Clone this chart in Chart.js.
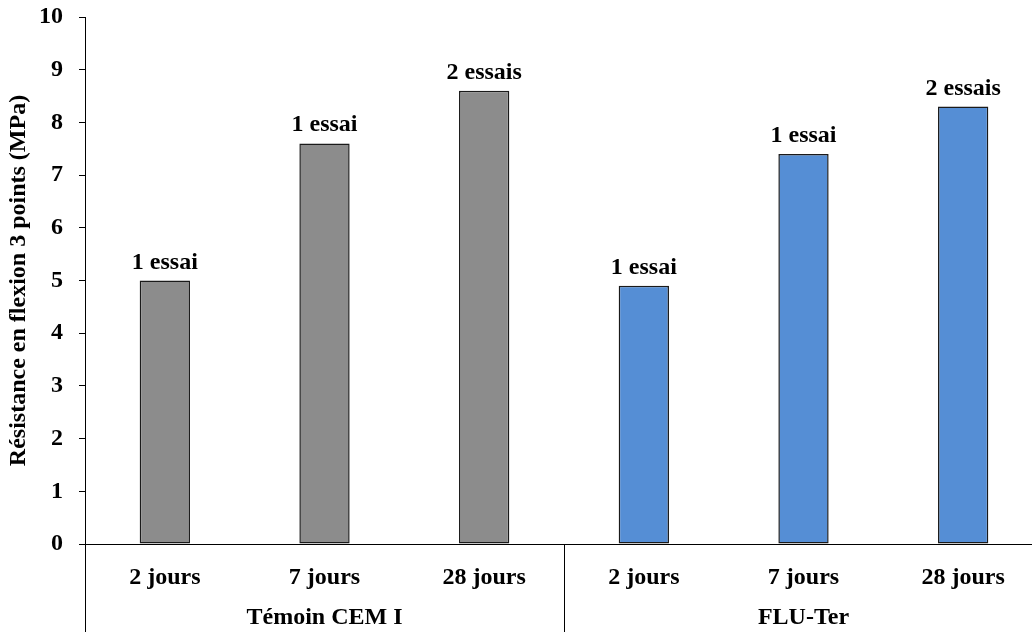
<!DOCTYPE html>
<html>
<head>
<meta charset="utf-8">
<script src="https://cdn.jsdelivr.net/npm/chart.js@4/dist/chart.umd.min.js"></script>
<style>
  html, body { margin: 0; padding: 0; background: #fff; overflow: hidden; }
  #wrap { width: 1050px; height: 632px; }
</style>
</head>
<body>
<div id="wrap"><canvas id="grafico" width="1050" height="632"></canvas></div>
<script>
var categories = ['2 jours', '7 jours', '28 jours', '2 jours', '7 jours', '28 jours'];
var groups = ['Témoin CEM I', 'FLU-Ter'];
var groupSizes = [3, 3];
var resistance = [5.0, 7.6, 8.6, 4.9, 7.4, 8.3];
var essais = ['1 essai', '1 essai', '2 essais', '1 essai', '1 essai', '2 essais'];
var yTicks = [0, 1, 2, 3, 4, 5, 6, 7, 8, 9, 10];

var police = 'bold 24px "Liberation Serif", "Times New Roman", serif';
var couleurs = ['#8c8c8c', '#8c8c8c', '#8c8c8c', '#558ed5', '#558ed5', '#558ed5'];

var etiquettes = {
    id: 'etiquettes',
    afterDatasetsDraw: function(chart) {
        var ctx = chart.ctx;
        var meta = chart.getDatasetMeta(0);
        ctx.save();
        ctx.font = police;
        ctx.fillStyle = '#000';
        ctx.textAlign = 'center';
        ctx.textBaseline = 'alphabetic';
        meta.data.forEach(function(bar, i) {
            ctx.fillText(essais[i], bar.x, bar.y - 12);
        });
        ctx.restore();
    }
};

var groupes = {
    id: 'groupes',
    afterDraw: function(chart) {
        var ctx = chart.ctx;
        var x = chart.scales.x;
        var demi = (x.getPixelForValue(1) - x.getPixelForValue(0)) / 2;
        var bas = chart.height;
        ctx.save();
        ctx.strokeStyle = '#000';
        ctx.lineWidth = 1;
        ctx.font = police;
        ctx.fillStyle = '#000';
        ctx.textAlign = 'center';
        ctx.textBaseline = 'middle';
        var debut = 0;
        groups.forEach(function(nom, g) {
            var fin = debut + groupSizes[g] - 1;
            var gauche = x.getPixelForValue(debut) - demi;
            var droite = x.getPixelForValue(fin) + demi;
            [gauche, droite].forEach(function(px) {
                px = Math.round(px) + 0.5;
                ctx.beginPath();
                ctx.moveTo(px, x.top);
                ctx.lineTo(px, bas);
                ctx.stroke();
            });
            ctx.fillText(nom, (gauche + droite) / 2, 618);
            debut = fin + 1;
        });
        ctx.restore();
    }
};

var ctx = document.querySelector('#grafico').getContext('2d');
var barChart = new Chart(ctx, {
    type: 'bar',
    data: {
        labels: categories,
        datasets: [{
            data: resistance,
            backgroundColor: couleurs,
            borderColor: '#1a1a1a',
            borderWidth: 1.5,
            borderSkipped: false,
            barPercentage: 0.315,
            categoryPercentage: 1
        }]
    },
    options: {
        responsive: false,
        animation: false,
        layout: { padding: { top: 17, right: 7, left: 0, bottom: 0 } },
        plugins: {
            legend: { display: false },
            tooltip: { enabled: false }
        },
        scales: {
            x: {
                grid: { display: false },
                border: { color: '#000', width: 1 },
                ticks: {
                    color: '#000',
                    font: { family: '"Liberation Serif", "Times New Roman", serif', size: 24, weight: 'bold' },
                    padding: 11,
                    maxRotation: 0
                },
                afterFit: function(scale) {
                    scale.height = 88;
                    scale.paddingLeft = 0;
                    scale.paddingRight = 0;
                }
            },
            y: {
                min: 0,
                max: 10,
                afterBuildTicks: function(scale) {
                    scale.ticks = yTicks.map(function(v) { return { value: v }; });
                },
                grid: { drawOnChartArea: false, drawTicks: true, tickLength: 6, color: '#000' },
                border: { color: '#000', width: 1 },
                ticks: {
                    color: '#000',
                    font: { family: '"Liberation Serif", "Times New Roman", serif', size: 24, weight: 'bold' },
                    padding: 16
                },
                title: {
                    display: true,
                    text: 'Résistance en flexion 3 points (MPa)',
                    color: '#000',
                    font: { family: '"Liberation Serif", "Times New Roman", serif', size: 24, weight: 'bold' },
                    padding: { top: 4, bottom: 0 }
                },
                afterFit: function(scale) {
                    scale.width = 85;
                    scale.paddingTop = 0;
                    scale.paddingBottom = 0;
                }
            }
        }
    },
    plugins: [etiquettes, groupes]
});
</script>
</body>
</html>
